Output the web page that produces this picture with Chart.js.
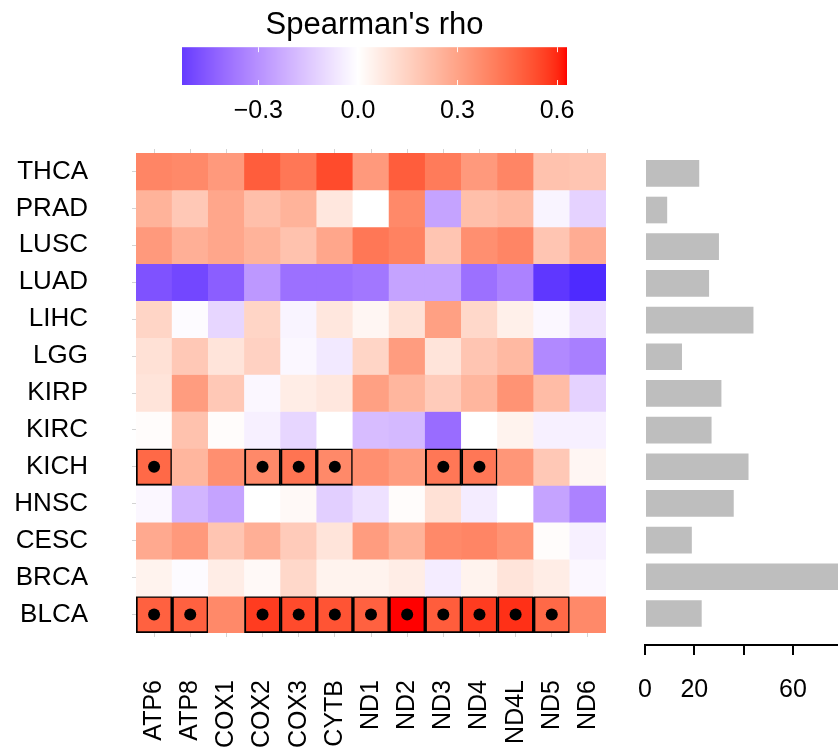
<!DOCTYPE html>
<html>
<head>
<meta charset="utf-8">
<script src="https://cdn.jsdelivr.net/npm/chart.js@4/dist/chart.umd.min.js"></script>
<style>
  html, body { margin: 0; padding: 0; background: #fff; }
  #fig { position: relative; width: 838px; height: 748px; overflow: hidden; background: #fff; }
  #fig canvas { position: absolute; }
</style>
</head>
<body>
<div id="fig">
  <canvas id="scaleBar" width="485" height="124" style="left:132px;top:0px"></canvas>
  <canvas id="heat" width="612" height="618" style="left:0px;top:130px"></canvas>
  <canvas id="counts" width="226" height="618" style="left:612px;top:130px"></canvas>
</div>
<script>
// ---- data ----------------------------------------------------------------
const genes = ['ATP6', 'ATP8', 'COX1', 'COX2', 'COX3', 'CYTB', 'ND1', 'ND2', 'ND3', 'ND4', 'ND4L', 'ND5', 'ND6'];
const cancers = ['THCA', 'PRAD', 'LUSC', 'LUAD', 'LIHC', 'LGG', 'KIRP', 'KIRC', 'KICH', 'HNSC', 'CESC', 'BRCA', 'BLCA'];

// Spearman's rho per cancer type, one value per gene (order of `genes`)
const rhoTHCA = [0.39, 0.38, 0.33, 0.50, 0.43, 0.54, 0.33, 0.50, 0.42, 0.33, 0.39, 0.20, 0.19];
const rhoPRAD = [0.25, 0.18, 0.29, 0.21, 0.25, 0.08, 0.00, 0.38, -0.25, 0.21, 0.23, -0.03, -0.12];
const rhoLUSC = [0.33, 0.26, 0.29, 0.25, 0.20, 0.29, 0.43, 0.40, 0.19, 0.36, 0.39, 0.19, 0.27];
const rhoLUAD = [-0.47, -0.50, -0.44, -0.28, -0.39, -0.39, -0.37, -0.25, -0.25, -0.39, -0.34, -0.54, -0.57];
const rhoLIHC = [0.14, -0.01, -0.11, 0.14, -0.03, 0.08, 0.03, 0.10, 0.31, 0.13, 0.05, -0.02, -0.08];
const rhoLGG  = [0.10, 0.18, 0.09, 0.15, -0.02, -0.06, 0.14, 0.32, 0.09, 0.19, 0.23, -0.32, -0.35];
const rhoKIRP = [0.09, 0.32, 0.18, -0.02, 0.06, 0.08, 0.31, 0.24, 0.17, 0.24, 0.35, 0.22, -0.12];
const rhoKIRC = [0.01, 0.20, 0.01, -0.04, -0.11, 0.00, -0.18, -0.19, -0.40, 0.00, 0.04, -0.04, -0.04];
const rhoKICH = [0.47, 0.24, 0.36, 0.38, 0.44, 0.38, 0.36, 0.32, 0.43, 0.43, 0.34, 0.18, 0.03];
const rhoHNSC = [-0.02, -0.20, -0.25, 0.00, 0.02, -0.13, -0.08, 0.01, 0.10, -0.05, 0.00, -0.25, -0.34];
const rhoCESC = [0.28, 0.33, 0.19, 0.26, 0.17, 0.09, 0.32, 0.25, 0.38, 0.39, 0.35, 0.01, -0.04];
const rhoBRCA = [0.04, -0.01, 0.06, 0.02, 0.13, 0.04, 0.04, 0.06, -0.05, 0.04, 0.09, 0.06, -0.02];
const rhoBLCA = [0.49, 0.49, 0.38, 0.57, 0.54, 0.52, 0.49, 0.63, 0.50, 0.57, 0.59, 0.47, 0.38];

// significant gene correlations (boxed, with a dot)
const sigKICH = ['ATP6', 'COX2', 'COX3', 'CYTB', 'ND3', 'ND4'];
const sigBLCA = ['ATP6', 'ATP8', 'COX2', 'COX3', 'CYTB', 'ND1', 'ND2', 'ND3', 'ND4', 'ND4L', 'ND5'];

// number of samples per cancer type (order of `cancers`)
const sampleCounts = [22, 9, 30, 26, 44, 15, 31, 27, 42, 36, 19, 102, 23];

// colour key and count axis ticks
const keyRange = [-0.53, 0.63];
const keyTicks = [-0.3, 0.0, 0.3, 0.6];
const countTicks = [0, 20, 40, 60];
const countTickLabels = ['0', '20', '', '60'];

// ---- helpers -------------------------------------------------------------
const rhoRows = [rhoTHCA, rhoPRAD, rhoLUSC, rhoLUAD, rhoLIHC, rhoLGG, rhoKIRP,
                 rhoKIRC, rhoKICH, rhoHNSC, rhoCESC, rhoBRCA, rhoBLCA];
const sigByCancer = { KICH: sigKICH, BLCA: sigBLCA };
const colourLimit = 0.63;

const FONT = '"Liberation Sans", Arial, Helvetica, sans-serif';
Chart.defaults.font.family = FONT;
Chart.defaults.color = '#000';

function toLin(c) { c /= 255; return c <= 0.04045 ? c / 12.92 : Math.pow((c + 0.055) / 1.055, 2.4); }
function toSrgb(c) { c = Math.min(1, Math.max(0, c)); return 255 * (c <= 0.0031308 ? 12.92 * c : 1.055 * Math.pow(c, 1 / 2.4) - 0.055); }
const WP = [0.95047, 1, 1.08883];
function rgbToLab(rgb) {
  const R = toLin(rgb[0]), G = toLin(rgb[1]), B = toLin(rgb[2]);
  const X = (0.4124 * R + 0.3576 * G + 0.1805 * B) / WP[0];
  const Y = (0.2126 * R + 0.7152 * G + 0.0722 * B) / WP[1];
  const Z = (0.0193 * R + 0.1192 * G + 0.9505 * B) / WP[2];
  const f = t => t > 0.008856 ? Math.cbrt(t) : 7.787 * t + 16 / 116;
  const fx = f(X), fy = f(Y), fz = f(Z);
  return [116 * fy - 16, 500 * (fx - fy), 200 * (fy - fz)];
}
function labToRgb(lab) {
  const fy = (lab[0] + 16) / 116, fx = fy + lab[1] / 500, fz = fy - lab[2] / 200;
  const inv = t => t > 0.206893 ? t * t * t : (t - 16 / 116) / 7.787;
  const X = inv(fx) * WP[0], Y = inv(fy) * WP[1], Z = inv(fz) * WP[2];
  const R = 3.2406 * X - 1.5372 * Y - 0.4986 * Z;
  const G = -0.9689 * X + 1.8758 * Y + 0.0415 * Z;
  const B = 0.0557 * X - 0.2040 * Y + 1.0570 * Z;
  return [toSrgb(R), toSrgb(G), toSrgb(B)].map(Math.round);
}
const LAB_BLUE = rgbToLab([0, 0, 255]);
const LAB_WHITE = rgbToLab([255, 255, 255]);
const LAB_RED = rgbToLab([255, 0, 0]);
// blue - white - red ramp interpolated in CIELAB space
function rhoColour(v) {
  const t = Math.min(1, Math.abs(v) / colourLimit);
  const end = v < 0 ? LAB_BLUE : LAB_RED;
  const lab = LAB_WHITE.map((w, k) => w + (end[k] - w) * t);
  const c = labToRgb(lab);
  return `rgb(${c[0]},${c[1]},${c[2]})`;
}
function fmtKey(v) {
  const s = Math.abs(v).toFixed(1);
  return v < -1e-9 ? '\u2212' + s : s;
}
// fix an axis' thickness and drop the label overhang padding it asks for
function pinAxis(size) {
  return s => {
    if (s.isHorizontal()) s.height = size; else s.width = size;
    s.paddingLeft = s.paddingRight = s.paddingTop = s.paddingBottom = 0;
  };
}

// ---- colour key ------------------------------------------------------------
const keyGradient = {
  id: 'keyGradient',
  beforeDatasetsDraw(chart) {
    const { ctx, chartArea: a, scales: { x } } = chart;
    ctx.save();
    for (let px = Math.floor(a.left); px < Math.ceil(a.right); px++) {
      ctx.fillStyle = rhoColour(x.getValueForPixel(px + 0.5));
      ctx.fillRect(px, a.top, 1, a.bottom - a.top);
    }
    ctx.strokeStyle = 'rgba(255,255,255,0.9)';
    ctx.lineWidth = 1;
    keyTicks.forEach(v => {
      const px = Math.round(x.getPixelForValue(v)) + 0.5;
      ctx.beginPath();
      ctx.moveTo(px, a.top); ctx.lineTo(px, a.top + 5);
      ctx.moveTo(px, a.bottom - 5); ctx.lineTo(px, a.bottom);
      ctx.stroke();
    });
    ctx.restore();
  }
};

new Chart(document.getElementById('scaleBar'), {
  type: 'scatter',
  data: { datasets: [] },
  options: {
    responsive: false, animation: false, events: [],
    layout: { padding: { left: 50, right: 50, top: 0, bottom: 0 } },
    plugins: {
      legend: { display: false }, tooltip: { enabled: false },
      title: { display: true, text: "Spearman's rho", color: '#000',
               font: { size: 31, weight: 'normal', family: FONT, lineHeight: 1.2 },
               padding: { top: 7, bottom: 3 } }
    },
    scales: {
      x: {
        type: 'linear', min: keyRange[0], max: keyRange[1],
        afterBuildTicks: s => { s.ticks = keyTicks.map(v => ({ value: v })); },
        ticks: { callback: v => fmtKey(v), padding: 3, font: { size: 25 }, color: '#000', autoSkip: false, maxRotation: 0 },
        grid: { display: false }, border: { display: false },
        afterFit: pinAxis(39)
      },
      y: { display: false, min: 0, max: 1 }
    }
  },
  plugins: [keyGradient]
});

// ---- heatmap -----------------------------------------------------------------
const cellSets = cancers.map((name, r) => {
  const sig = sigByCancer[name] || [];
  return {
    type: 'bar',
    label: name,
    data: genes.map(() => [r, r + 1]),
    backgroundColor: rhoRows[r].map(rhoColour),
    borderColor: '#000',
    borderWidth: genes.map(g => sig.includes(g) ? 2 : 0),
    borderSkipped: false,
    grouped: false,
    barPercentage: 1,
    categoryPercentage: 1,
    order: 1
  };
});
const dotPoints = [];
cancers.forEach((name, r) => {
  (sigByCancer[name] || []).forEach(g => dotPoints.push({ x: g, y: r + 0.5 }));
});
const dotSet = {
  type: 'scatter', data: dotPoints, order: 0,
  pointRadius: 6, pointHoverRadius: 6, pointBackgroundColor: '#000', pointBorderWidth: 0
};

const faintGrid = { drawOnChartArea: false, drawTicks: true, tickLength: 4, color: '#d4d4d4', lineWidth: 1 };

new Chart(document.getElementById('heat'), {
  type: 'bar',
  data: { labels: genes, datasets: [dotSet, ...cellSets] },
  options: {
    responsive: false, animation: false, events: [],
    layout: { padding: { left: 0, right: 2, top: 19, bottom: 0 } },
    plugins: { legend: { display: false }, tooltip: { enabled: false } },
    scales: {
      x: {
        type: 'category', position: 'bottom', offset: true,
        grid: { ...faintGrid, offset: false }, border: { display: false },
        ticks: { autoSkip: false, minRotation: 90, maxRotation: 90, padding: 43, font: { size: 25 }, color: '#000' },
        afterFit: pinAxis(115)
      },
      xTop: {
        type: 'category', position: 'top', offset: true, labels: genes,
        grid: { ...faintGrid, offset: false }, border: { display: false },
        ticks: { display: false },
        afterFit: pinAxis(4)
      },
      y: {
        type: 'linear', reverse: true, min: 0, max: cancers.length, offset: false,
        afterBuildTicks: s => { s.ticks = cancers.map((_, i) => ({ value: i + 0.5 })); },
        ticks: { callback: v => cancers[Math.floor(v)], padding: 44, font: { size: 26 }, color: '#000', autoSkip: false },
        grid: faintGrid, border: { display: false },
        afterFit: pinAxis(136)
      }
    }
  }
});

// ---- sample counts -----------------------------------------------------------
new Chart(document.getElementById('counts'), {
  type: 'bar',
  data: {
    datasets: [{
      data: sampleCounts.map((n, i) => ({ x: n, y: i })),
      backgroundColor: '#bebebe',
      barPercentage: 0.727, categoryPercentage: 1
    }]
  },
  options: {
    indexAxis: 'y', responsive: false, animation: false, events: [],
    layout: { padding: { left: 33, right: 0, top: 25, bottom: 0 } },
    plugins: { legend: { display: false }, tooltip: { enabled: false } },
    scales: {
      y: {
        type: 'linear', reverse: true, min: -0.5, max: 12.86, offset: false, display: false,
        afterBuildTicks: s => { s.ticks = sampleCounts.map((_, i) => ({ value: i })); }
      },
      x: {
        type: 'linear', min: 0, max: 78.3,
        afterBuildTicks: s => { s.ticks = countTicks.map(v => ({ value: v })); },
        ticks: { callback: (v, i) => countTickLabels[i], autoSkip: false, maxRotation: 0, padding: 20, font: { size: 25 }, color: '#000' },
        grid: { drawOnChartArea: false, drawTicks: true, tickLength: 10, color: '#000', lineWidth: 2 },
        border: { display: true, color: '#000', width: 2 },
        afterFit: pinAxis(103)
      }
    }
  }
});
</script>
</body>
</html>
